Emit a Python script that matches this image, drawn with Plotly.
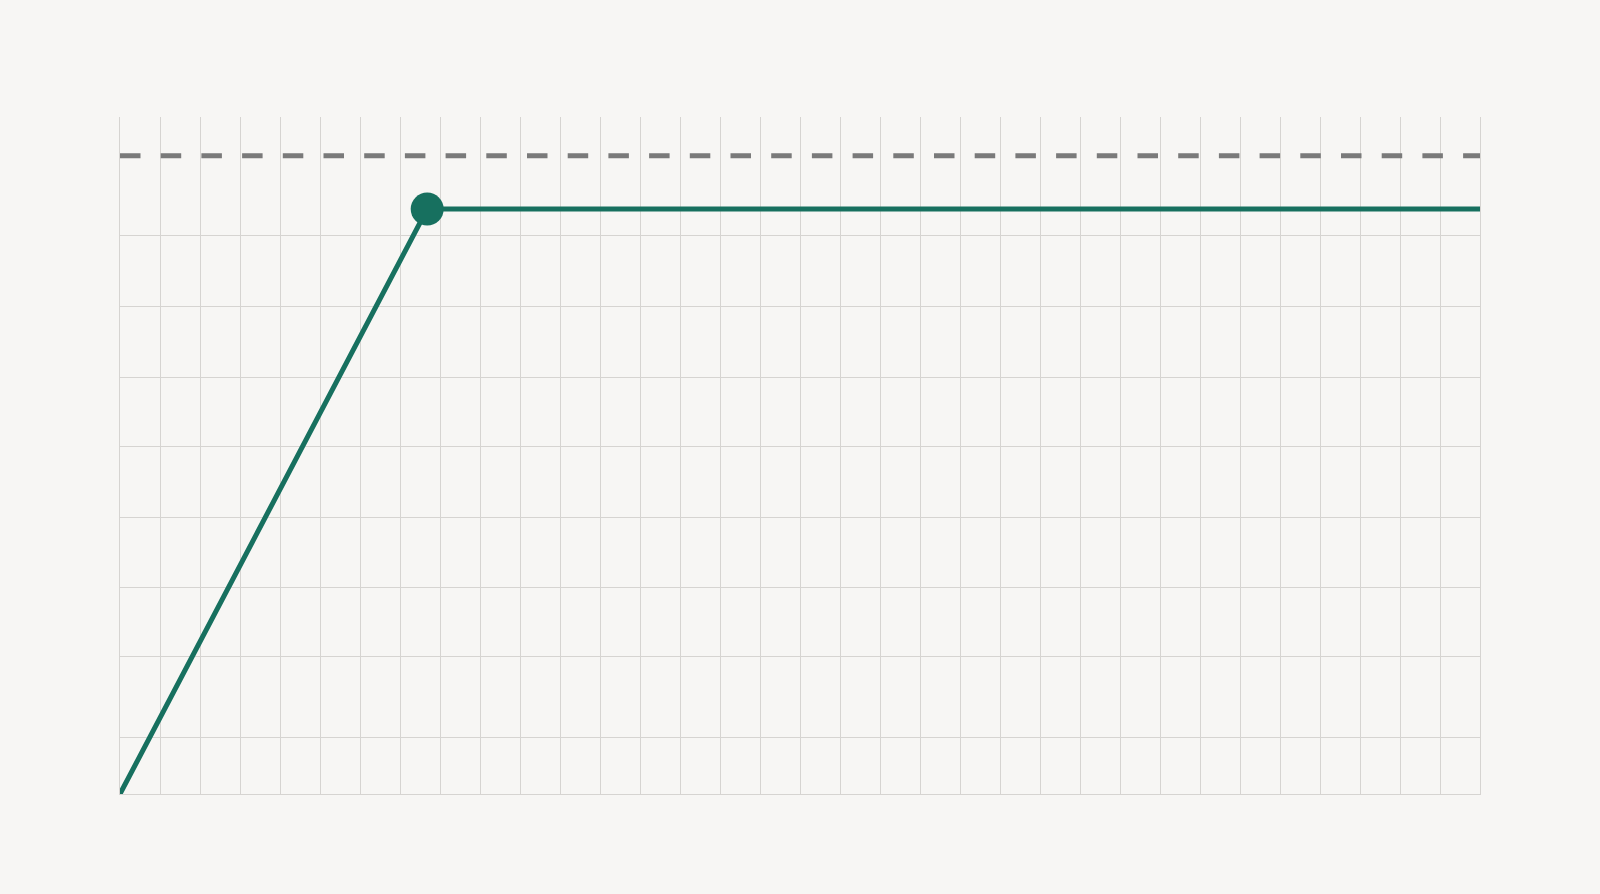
import plotly.graph_objects as go

# Data (x in grid columns, y in grid rows from the bottom)
line_x = [0, 7.68, 34]
line_y = [0, 8.32, 8.32]
peak_x = [7.68]
peak_y = [8.32]
limit_x = [0, 34]
limit_y = [9.08, 9.08]
x_grid = list(range(0, 35))
y_grid = [0, 0.81, 1.95, 2.94, 3.94, 4.94, 5.93, 6.93, 7.94]

green = '#17705f'
grey = '#7a7a7a'
bg = '#f7f6f4'
grid = '#d6d4d1'

fig = go.Figure()

# Dashed upper limit
fig.add_trace(go.Scatter(x=limit_x, y=limit_y, mode='lines',
                         line=dict(color=grey, width=5, dash='20.5px,20.2px'),
                         hoverinfo='skip'))

# Rise then plateau
fig.add_trace(go.Scatter(x=line_x, y=line_y, mode='lines',
                         line=dict(color=green, width=5),
                         hoverinfo='skip'))

# Corner point
fig.add_trace(go.Scatter(x=peak_x, y=peak_y, mode='markers',
                         marker=dict(color=green, size=33),
                         hoverinfo='skip'))

fig.update_layout(
    width=1600, height=894,
    margin=dict(l=120, r=120, t=117, b=100),
    paper_bgcolor=bg, plot_bgcolor=bg,
    showlegend=False,
)
fig.update_xaxes(range=[0, 34], tickvals=x_grid, showticklabels=False,
                 showgrid=True, gridcolor=grid, gridwidth=1,
                 zeroline=False, showline=True, linecolor=grid, linewidth=1,
                 mirror=False)
fig.update_yaxes(range=[0, 9.63], tickvals=y_grid, showticklabels=False,
                 showgrid=True, gridcolor=grid, gridwidth=1,
                 zeroline=False, showline=True, linecolor=grid, linewidth=1,
                 mirror=True)

# no page margin round the figure, no toolbar
fig.write_html("out.html",
               config={'displayModeBar': False},
               post_script="document.body.style.margin='0';"
                           "document.body.style.background='#f7f6f4';")
